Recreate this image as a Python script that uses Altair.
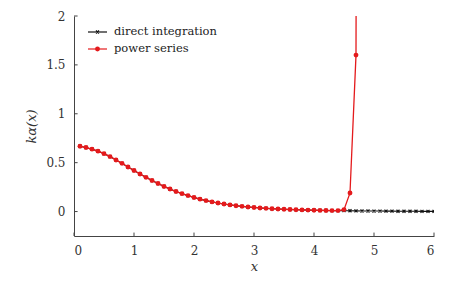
import altair as alt
import pandas as pd

# x grid of the computed points
x_ps = [0.1, 0.2, 0.3, 0.4, 0.5, 0.6, 0.7, 0.8, 0.9, 1.0,
        1.1, 1.2, 1.3, 1.4, 1.5, 1.6, 1.7, 1.8, 1.9, 2.0,
        2.1, 2.2, 2.3, 2.4, 2.5, 2.6, 2.7, 2.8, 2.9, 3.0,
        3.1, 3.2, 3.3, 3.4, 3.5, 3.6, 3.7, 3.8, 3.9, 4.0,
        4.1, 4.2, 4.3, 4.4, 4.5, 4.6, 4.7, 4.8]
y_ps = [0.668, 0.655, 0.638, 0.618, 0.592, 0.562, 0.528, 0.493, 0.456, 0.420,
        0.384, 0.350, 0.318, 0.287, 0.257, 0.230, 0.205, 0.183, 0.163, 0.144,
        0.127, 0.112, 0.099, 0.087, 0.077, 0.068, 0.060, 0.053, 0.047, 0.042,
        0.037, 0.033, 0.029, 0.026, 0.023, 0.021, 0.019, 0.017, 0.015, 0.014,
        0.012, 0.011, 0.010, 0.010, 0.020, 0.190, 1.600, 30.0]

x_di = [0.1, 0.2, 0.3, 0.4, 0.5, 0.6, 0.7, 0.8, 0.9, 1.0,
        1.1, 1.2, 1.3, 1.4, 1.5, 1.6, 1.7, 1.8, 1.9, 2.0,
        2.1, 2.2, 2.3, 2.4, 2.5, 2.6, 2.7, 2.8, 2.9, 3.0,
        3.1, 3.2, 3.3, 3.4, 3.5, 3.6, 3.7, 3.8, 3.9, 4.0,
        4.1, 4.2, 4.3, 4.4, 4.5, 4.6, 4.7, 4.8, 4.9, 5.0,
        5.1, 5.2, 5.3, 5.4, 5.5, 5.6, 5.7, 5.8, 5.9, 6.0]
y_di = [0.668, 0.655, 0.638, 0.618, 0.592, 0.562, 0.528, 0.493, 0.456, 0.420,
        0.384, 0.350, 0.318, 0.287, 0.257, 0.230, 0.205, 0.183, 0.163, 0.144,
        0.127, 0.112, 0.099, 0.087, 0.077, 0.068, 0.060, 0.053, 0.047, 0.042,
        0.037, 0.033, 0.029, 0.026, 0.023, 0.021, 0.019, 0.017, 0.015, 0.014,
        0.012, 0.011, 0.010, 0.010, 0.009, 0.008, 0.007, 0.006, 0.006, 0.005,
        0.005, 0.004, 0.004, 0.003, 0.003, 0.003, 0.003, 0.002, 0.002, 0.002]

x_ticks = [0, 1, 2, 3, 4, 5, 6]
y_ticks = [0, 0.5, 1, 1.5, 2]
series_names = ["direct integration", "power series"]

RED = "#e41a1c"
BLACK = "#111111"
FONT = "DejaVu Serif"
AX = "#444444"

ps = pd.DataFrame({"x": x_ps, "y": y_ps})
di = pd.DataFrame({"x": x_di, "y": y_di})

xs = alt.Scale(domain=[0, 6], nice=False, zero=False)
ys = alt.Scale(domain=[-0.25, 2], nice=False, zero=False)

xax = alt.Axis(values=x_ticks, format="~g", title="x")
yax = alt.Axis(values=y_ticks, format="~g", title="kα(x)", titlePadding=7)

cross = "M-1,-1L1,1M-1,1L1,-1"

X = alt.X("x:Q", scale=xs, axis=xax)
Y = alt.Y("y:Q", scale=ys, axis=yax)

base_di = alt.Chart(di)
black_line = base_di.mark_line(color=BLACK, strokeWidth=1.1, clip=True).encode(x=X, y=Y)
black_pts = base_di.mark_point(shape=cross, size=9, color=BLACK, strokeWidth=1.2,
                               filled=False, opacity=1, clip=True).encode(x=X, y=Y)

base_ps = alt.Chart(ps)
red_line = base_ps.mark_line(color=RED, strokeWidth=1.3, clip=True).encode(x=X, y=Y)
red_pts = base_ps.mark_point(shape="circle", size=24, color=RED, filled=True,
                             opacity=1, clip=True).encode(x=X, y=Y)

# inward ticks
xt = pd.DataFrame({"x": x_ticks, "y0": [-0.25] * len(x_ticks), "y1": [-0.215] * len(x_ticks)})
yt = pd.DataFrame({"y": y_ticks, "x0": [0] * len(y_ticks), "x1": [0.06] * len(y_ticks)})
xtick = alt.Chart(xt).mark_rule(color=AX, strokeWidth=1).encode(
    x=alt.X("x:Q", scale=xs, axis=xax), y=alt.Y("y0:Q", scale=ys, axis=yax), y2="y1:Q")
ytick = alt.Chart(yt).mark_rule(color=AX, strokeWidth=1).encode(
    y=alt.Y("y:Q", scale=ys, axis=yax), x=alt.X("x0:Q", scale=xs, axis=xax), x2="x1:Q")

# legend (drawn by hand, in pixel space of the plot area)
leg_rows = [16, 33]
layers_leg = []
for name, ry, col in zip(series_names, leg_rows, [BLACK, RED]):
    d = pd.DataFrame({"name": [name]})
    layers_leg.append(alt.Chart(d).mark_rule(strokeWidth=1.2, color=col).encode(
        x=alt.value(14), x2=alt.value(33), y=alt.value(ry)))
    if name == "direct integration":
        layers_leg.append(alt.Chart(d).mark_point(shape=cross, size=9, color=col,
                                                  filled=False, strokeWidth=1.2, opacity=1).encode(
            x=alt.value(23.5), y=alt.value(ry)))
    else:
        layers_leg.append(alt.Chart(d).mark_point(shape="circle", size=24, color=col,
                                                  filled=True, opacity=1).encode(
            x=alt.value(23.5), y=alt.value(ry)))
    layers_leg.append(alt.Chart(d).mark_text(align="left", baseline="middle", font=FONT,
                                             fontSize=11.5, color="#222").encode(
        x=alt.value(40), y=alt.value(ry), text="name:N"))

chart = alt.layer(black_line, black_pts, red_line, red_pts, xtick, ytick,
                  *layers_leg).properties(
    width=360, height=220,
    autosize=alt.AutoSizeParams(type="none"),
    padding={"left": 66, "top": 8, "right": 21, "bottom": 42},
).configure_view(stroke=None).configure_axis(
    domainWidth=1, domainColor=AX, tickSize=0, labelPadding=9, grid=False,
    labelFont=FONT, labelFontSize=12, labelColor="#333",
    titleFont=FONT, titleFontStyle="italic", titleFontWeight="normal",
    titleFontSize=13, titleColor="#333", titlePadding=4,
)

chart.save("out.html", embed_options={"renderer": "svg", "actions": False})
